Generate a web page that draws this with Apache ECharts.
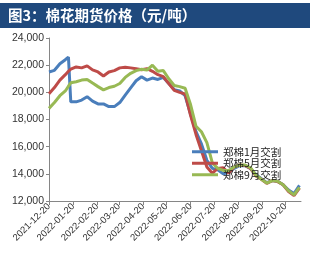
<!DOCTYPE html>
<html>
<head>
<meta charset="utf-8">
<title>棉花期货价格</title>
<script src="https://cdn.jsdelivr.net/npm/echarts@6/dist/echarts.min.js"></script>
<style>
  html, body { margin: 0; padding: 0; background: #fff; }
  #cotton_charts { width: 310px; height: 255px; }
</style>
</head>
<body>
<div id="cotton_charts"></div>
<script>
// 日期（每周）
var dates = [
  "2021-12-20", "2021-12-27", "2022-01-03", "2022-01-10", "2022-01-14", "2022-01-17",
  "2022-01-24", "2022-01-31", "2022-02-07", "2022-02-14", "2022-02-21", "2022-02-28",
  "2022-03-07", "2022-03-14", "2022-03-21", "2022-03-28", "2022-04-04", "2022-04-11",
  "2022-04-18", "2022-04-25", "2022-05-02", "2022-05-09", "2022-05-16", "2022-05-23",
  "2022-05-30", "2022-06-06", "2022-06-13", "2022-06-20", "2022-06-27", "2022-07-04",
  "2022-07-11", "2022-07-18", "2022-07-25", "2022-08-01", "2022-08-08", "2022-08-15",
  "2022-08-22", "2022-08-29", "2022-09-05", "2022-09-12", "2022-09-19", "2022-09-26",
  "2022-10-03", "2022-10-10", "2022-10-17", "2022-10-24", "2022-10-31", "2022-11-07"
];
// 郑棉1月交割
var jan = [
  21500, 21620, 22100, 22400, 22600, 19300,
  19300, 19430, 19680, 19350, 19150, 19150,
  18950, 18950, 19250, 19800, 20330, 20850,
  21150, 20900, 21050, 20950, 21100, 20650,
  20200, 20100, 19750, 18400, 17100, 16200,
  15000, 14400, 14300, 14000, 14100, 14400,
  14600, 14600, 14400, 13950, 13650, 13350,
  13500, 13450, 13200, 12800, 12550, 13150
];
// 郑棉5月交割
var may = [
  19900, 20350, 20900, 21300, 21550, 21700,
  21870, 21800, 21950, 21650, 21500, 21200,
  21500, 21600, 21800, 21850, 21800, 21740,
  21660, 21740, 21550, 21300, 21150, 20650,
  20150, 20000, 19880, 18300, 16900, 15700,
  14500, 14050, 14400, 14450, 14050, 14500,
  14650, 14620, 14400, 13850, 13600, 13300,
  13500, 13430, 13200, 12700, 12400, 12950
];
// 郑棉9月交割
var sep = [
  18820, 19250, 19750, 20100, 20450, 20700,
  20780, 20900, 20950, 20680, 20420, 20180,
  20350, 20450, 20650, 21100, 21400, 21600,
  21700, 21640, 22000, 21550, 21600, 21000,
  20500, 20420, 20300, 19100, 17500, 17100,
  16300, 14800, 14400, 14250, 14250, 14500,
  14650, 14650, 14450, 13900, 13600, 13320,
  13500, 13450, 13200, 12750, 12450, 13000
];
var seriesNames = ["郑棉1月交割", "郑棉5月交割", "郑棉9月交割"];
var seriesColors = ["#4a7ebb", "#be4b48", "#98b954"];
var tickDates = [
  "2021-12-20", "2022-01-20", "2022-02-20", "2022-03-20", "2022-04-20", "2022-05-20",
  "2022-06-20", "2022-07-20", "2022-08-20", "2022-09-20", "2022-10-20"
];
var startDate = "2021-12-20";
var endDate = "2022-11-09";

// 日期 -> 距起始日的天数
function toDay(s) {
  var p = s.split("-");
  var t = Date.UTC(+p[0], +p[1] - 1, +p[2]);
  var p0 = startDate.split("-");
  return Math.round((t - Date.UTC(+p0[0], +p0[1] - 1, +p0[2])) / 86400000);
}
function pair(values) {
  return values.map(function (v, i) { return [toDay(dates[i]), v]; });
}
var tickDays = tickDates.map(toDay);

var myChart = echarts.init(document.getElementById("cotton_charts"));

var lines = [jan, may, sep].map(function (values, i) {
  return {
    name: seriesNames[i],
    type: "line",
    symbol: "none",
    lineStyle: { color: seriesColors[i], width: 3 },
    itemStyle: { color: seriesColors[i] },
    data: pair(values)
  };
});

var option = {
  animation: false,
  graphic: [
    {
      type: "rect",
      shape: { x: 0, y: 3, width: 310, height: 25 },
      style: { fill: "#1f497d" }
    },
    {
      type: "text",
      x: 8,
      y: 15.5,
      style: {
        text: "图3：棉花期货价格（元/吨）",
        fill: "#fff",
        font: "bold 14.5px 'Noto Sans CJK SC'",
        verticalAlign: "middle"
      }
    }
  ],
  grid: {
    left: 49,
    right: 9,
    top: 38,
    bottom: 54
  },
  legend: {
    orient: "vertical",
    left: 187,
    top: 141,
    itemWidth: 26,
    itemHeight: 3,
    itemGap: 0,
    icon: "rect",
    data: seriesNames,
    textStyle: {
      color: "#1a1a1a",
      fontSize: 10.5,
      lineHeight: 11.5,
      fontFamily: "Noto Sans CJK SC"
    }
  },
  xAxis: {
    type: "value",
    min: 0,
    max: toDay(endDate),
    splitLine: { show: false },
    axisLine: { lineStyle: { color: "#868686" } },
    axisTick: {
      show: true,
      length: 4,
      customValues: tickDays,
      lineStyle: { color: "#868686" }
    },
    axisLabel: {
      customValues: tickDays,
      rotate: 45,
      margin: 4,
      color: "#333",
      fontSize: 9.5,
      fontFamily: "Arial, 'Liberation Sans', sans-serif",
      hideOverlap: false,
      formatter: function (val) {
        var i = tickDays.indexOf(Math.round(val));
        return i >= 0 ? tickDates[i] : "";
      }
    }
  },
  yAxis: {
    type: "value",
    min: 12000,
    max: 24000,
    interval: 2000,
    splitLine: { show: false },
    axisLine: { show: true, lineStyle: { color: "#868686" } },
    axisTick: { show: true, length: 3, lineStyle: { color: "#868686" } },
    axisLabel: {
      color: "#333",
      fontSize: 10.5,
      fontFamily: "Arial, 'Liberation Sans', sans-serif",
      margin: 5,
      formatter: function (v) {
        return v.toLocaleString("en-US");
      }
    }
  },
  series: lines
};
myChart.setOption(option);
</script>
</body>
</html>
